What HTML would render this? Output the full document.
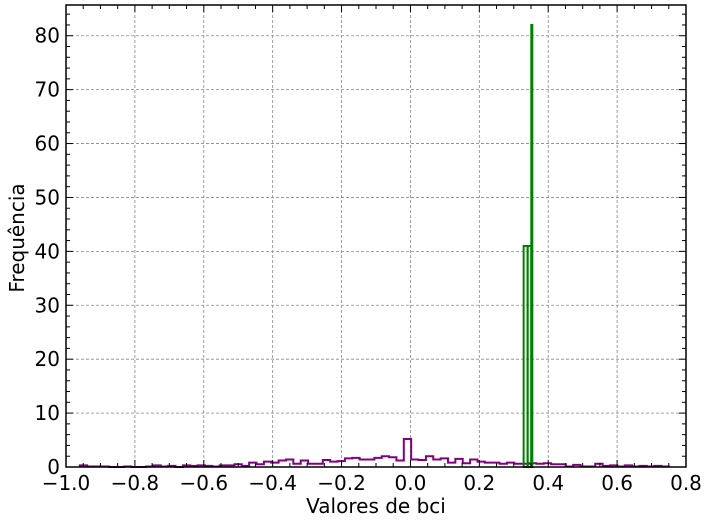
<!DOCTYPE html>
<html><head><meta charset="utf-8"><style>
body{margin:0;background:#fff;}
svg text{font-family:"DejaVu Sans","Liberation Sans",sans-serif;fill:#000;}
</style></head><body>
<svg id="chart" width="708" height="522" xmlns="http://www.w3.org/2000/svg"></svg>
<script>
const xTicks=[-1.0,-0.8,-0.6,-0.4,-0.2,0.0,0.2,0.4,0.6,0.8];
const xTickLabels=["−1.0","−0.8","−0.6","−0.4","−0.2","0.0","0.2","0.4","0.6","0.8"];
const yTicks=[0,10,20,30,40,50,60,70,80];
const purpleStart=-0.96, purpleWidth=0.02138;
const purpleValues=[0.3,0.1,0.1,0.1,0,0,0.1,0,0,0.1,0.3,0.1,0.2,0,0.3,0.2,0.3,0.2,0.1,0.3,0.3,0.5,0.2,0.8,0.5,1.0,0.8,1.2,1.4,0.6,1.2,0.6,0.6,1.3,1.0,1.1,1.6,1.7,1.4,1.4,1.7,2.0,1.8,1.2,5.2,1.4,1.3,2.0,1.4,1.6,0.8,1.5,0.7,1.4,1.0,0.8,0.8,0.6,0.8,0.6,0.6,0.7,0.6,0.7,0.5,0.5,0.1,0.4,0.1,0.1,0.6,0.2,0.3,0.1,0.3,0.1,0.2,0.1,0.2,0.1];
const greenEdges=[0.3286,0.3402,0.3509,0.3522];
const greenValues=[41,41,82];
const L=66,R=686,T=5,B=467;
const xs=v=>L+(v+1.0)/1.8*(R-L);
const ys=v=>B-v/85.7*(B-T);
const svg=document.getElementById('chart');
const NS="http://www.w3.org/2000/svg";
function mk(tag,attrs,parent){const e=document.createElementNS(NS,tag);for(const k in attrs)e.setAttribute(k,attrs[k]);(parent||svg).appendChild(e);return e;}
xTicks.forEach(t=>{if(t>-1&&t<0.8){const g=mk('line',{x1:xs(t),x2:xs(t),y1:T,y2:B,stroke:'#888','stroke-width':0.8,'stroke-dasharray':'3,2'});

}});
yTicks.forEach(t=>{if(t>0){const g=mk('line',{x1:L,x2:R,y1:ys(t),y2:ys(t),stroke:'#888','stroke-width':0.8,'stroke-dasharray':'3,2'});

}});
let d='M'+xs(purpleStart)+','+ys(0);
purpleValues.forEach((v,i)=>{const x0=xs(purpleStart+i*purpleWidth),x1=xs(purpleStart+(i+1)*purpleWidth);d+=' L'+x0+','+ys(v)+' L'+x1+','+ys(v);});
d+=' L'+xs(purpleStart+purpleValues.length*purpleWidth)+','+ys(0);
const p=mk('path',{d:d,fill:'none',stroke:'purple','stroke-width':2});


greenValues.forEach((v,i)=>{const r=mk('rect',{x:xs(greenEdges[i]),y:ys(v),width:Math.max(1,xs(greenEdges[i+1])-xs(greenEdges[i])),height:ys(0)-ys(v),fill:'none',stroke:'green','stroke-width':2});

});
const f=mk('rect',{x:L,y:T,width:R-L,height:B-T,fill:'none',stroke:'#000','stroke-width':1.5});


for(let v=-1.0;v<=0.8001;v+=0.05){const major=Math.abs(Math.round(v*5)-v*5)<1e-6;const len=major?7:4;
mk('line',{x1:xs(v),x2:xs(v),y1:B,y2:B-len,stroke:'#000','stroke-width':1});
mk('line',{x1:xs(v),x2:xs(v),y1:T,y2:T+len,stroke:'#000','stroke-width':1});}
for(let v=0;v<=85;v+=2){const major=v%10===0;const len=major?7:4;
mk('line',{x1:L,x2:L+len,y1:ys(v),y2:ys(v),stroke:'#000','stroke-width':1});
mk('line',{x1:R,x2:R-len,y1:ys(v),y2:ys(v),stroke:'#000','stroke-width':1});}
xTicks.forEach((t,i)=>{const tx=mk('text',{x:xs(t),y:B+23,'text-anchor':'middle','font-size':20});tx.textContent=xTickLabels[i];

});
yTicks.forEach(t=>{const tx=mk('text',{x:L-6,y:ys(t)+7,'text-anchor':'end','font-size':20});tx.textContent=t;

});
const xt=mk('text',{x:376,y:513,'text-anchor':'middle','font-size':20});xt.textContent='Valores de bci';


const yt=mk('text',{x:0,y:0,'text-anchor':'middle','font-size':20,transform:'translate(24,238) rotate(-90)'});yt.textContent='Frequência';


</script>
</body></html>
